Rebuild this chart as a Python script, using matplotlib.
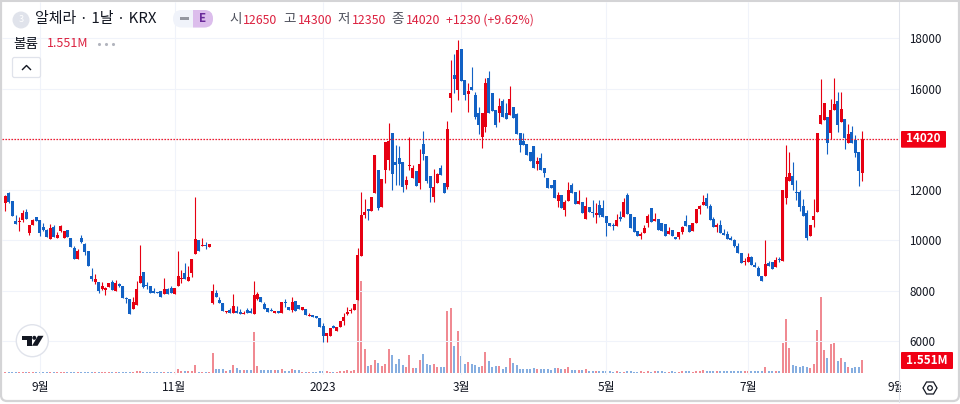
import matplotlib
matplotlib.use('Agg')
import matplotlib.pyplot as plt
from matplotlib.patches import Circle, FancyBboxPatch, Polygon, Rectangle
from matplotlib.transforms import Bbox

plt.rcParams['font.family'] = ['Noto Sans CJK KR', 'DejaVu Sans']

# 일봉 데이터
opens = [
    11479, 11849, 11545, 10753, 10712, 10793, 11110, 10291, 10582, 10899,
    10793, 10503, 10397, 10054, 10529, 10093, 10371, 10093, 10384, 10093,
    9697, 9262, 10067, 9843, 9565, 8562, 8325, 8325, 8060, 8021,
    8153, 8325, 7995, 8259, 8166, 7691, 7678, 7255, 7427, 8311,
    8747, 8206, 8179, 7968, 7955, 7981, 7876, 8047, 8087, 7876,
    8192, 8443, 8681, 8364, 8681, 9447, 10001, 9777, 9803, 9737,
    7519, 7902, 7625, 7519, 7137, 7229, 7124, 7190, 7137, 7057,
    7229, 7190, 7084, 7665, 7757, 7466, 7321, 7229, 7124, 7202,
    7124, 7533, 7361, 7229, 7585, 7427, 7229, 7255, 7004, 7031,
    6991, 6925, 6595, 6213, 6213, 6595, 6411, 6569, 6793, 7057,
    7176, 7229, 7625, 9367, 10991, 11216, 11163, 11875, 12773, 11321,
    12773, 13169, 14251, 13090, 13235, 13077, 12179, 12931, 12443, 12746,
    12271, 13803, 13327, 12549, 11717, 12245, 12865, 12245, 12087, 15637,
    16522, 15941, 17551, 16337, 15769, 16060, 15743, 15017, 14093, 14463,
    16403, 15809, 15149, 15043, 15519, 15017, 14951, 15255, 14991, 14225,
    13921, 13789, 13499, 13723, 13011, 13235, 12865, 12469, 12192, 12377,
    11545, 11783, 11189, 11545, 12179, 11889, 11413, 11519, 10845, 11307,
    11110, 10978, 11387, 11255, 10951, 10687, 10608, 10569, 10925, 10925,
    11783, 11017, 10899, 10357, 10173, 10291, 10661, 11255, 10741, 10833,
    10661, 10635, 10252, 10397, 10133, 10120, 10305, 10753, 10595, 10357,
    10661, 11229, 11387, 11664, 11360, 10846, 10503, 10595, 10265, 10225,
    10067, 9988, 9750, 9499, 9129, 9143, 9328, 9024, 8905, 8562,
    8589, 9077, 9117, 8945, 9249, 9183, 11677, 12351, 12535, 11902,
    11915, 11360, 11057, 10173, 10793, 11123, 14595, 14753, 14859, 14251,
    15149, 15505, 14687, 14779, 13829, 14278, 13961, 13472, 12650,
]
closes = [
    11743, 11506, 10965, 10635, 10730, 11057, 10846, 10582, 10793, 10767,
    10265, 10397, 10133, 10463, 10133, 10199, 10555, 10344, 10120, 9737,
    9262, 9579, 9922, 9539, 8971, 8443, 8456, 7995, 8166, 8087,
    8285, 8021, 8285, 8179, 7704, 7651, 7084, 7546, 8047, 8575,
    8153, 8166, 7915, 7915, 7915, 7757, 8047, 7862, 7889, 8113,
    8575, 8470, 8443, 8536, 9249, 10041, 9565, 9803, 9750, 9843,
    7981, 7757, 7519, 7202, 7150, 7097, 7387, 7124, 7057, 7124,
    7124, 7097, 7823, 7849, 7533, 7282, 7163, 7176, 7202, 7124,
    7559, 7493, 7229, 7546, 7202, 7255, 7361, 7044, 7031, 6965,
    6899, 6543, 6199, 6331, 6529, 6503, 6569, 6806, 6965, 7163,
    7202, 7467, 9407, 10991, 11123, 11163, 11717, 13367, 11255, 12416,
    13895, 13921, 12615, 12971, 12997, 12113, 12377, 12971, 12839, 12153,
    12997, 13407, 12351, 12073, 12087, 12601, 12575, 11875, 14383, 15809,
    16390, 17525, 16311, 15743, 15901, 15941, 14885, 14555, 15043, 16205,
    15017, 15123, 14555, 15307, 14859, 14779, 15571, 14819, 14185, 13763,
    13763, 13367, 13129, 12865, 13116, 12773, 12641, 12073, 12073, 11677,
    11783, 11255, 11519, 11981, 11849, 11413, 11545, 11057, 11347, 11110,
    11057, 11070, 11004, 10925, 10687, 10569, 10555, 10793, 10819, 11493,
    11017, 10489, 10331, 10173, 10225, 10489, 10951, 10727, 10846, 10397,
    10371, 10173, 10357, 10173, 10041, 10318, 10529, 10569, 10305, 10661,
    11229, 11360, 11493, 11347, 10806, 10529, 10595, 10291, 10212, 10054,
    9988, 9750, 9499, 9103, 9169, 9328, 9024, 8945, 8589, 8391,
    9037, 8985, 8853, 9209, 9222, 11981, 12509, 12641, 12179, 11875,
    11321, 10965, 10093, 10595, 10938, 14225, 14951, 15413, 13829, 15149,
    15387, 14555, 15189, 14053, 14199, 13829, 13459, 12747, 14020,
]
highs = [
    11770, 11902, 11545, 10991, 10899, 11189, 11242, 10582, 10820, 10925,
    10793, 10687, 10450, 10635, 10582, 10331, 10595, 10344, 10384, 10093,
    9763, 9645, 10186, 9895, 9565, 8892, 8641, 8351, 8351, 8126,
    8285, 8404, 8417, 8311, 8166, 7757, 7678, 7731, 8377, 9803,
    8747, 8351, 8179, 8100, 7955, 7981, 8483, 8113, 8192, 8113,
    9565, 8813, 9103, 8971, 9249, 11704, 10001, 10067, 9922, 9843,
    8259, 8021, 7730, 7519, 7202, 7295, 7862, 7387, 7255, 7190,
    7321, 7321, 8377, 7928, 7757, 7559, 7321, 7308, 7202, 7202,
    7559, 7664, 7361, 7730, 7585, 7427, 7361, 7255, 7123, 7031,
    6991, 6925, 6701, 6331, 6529, 6635, 6569, 6806, 7097, 7335,
    7295, 7467, 9671, 11889, 11625, 11216, 11717, 13367, 12773, 12416,
    13895, 14621, 14251, 13763, 13723, 13077, 12535, 14067, 12971, 12746,
    13591, 14317, 13327, 12549, 12799, 12667, 12971, 12245, 14713, 17129,
    17367, 17921, 17551, 16337, 16205, 16839, 15875, 15255, 15043, 16403,
    16693, 15809, 15149, 15611, 15585, 15439, 16099, 15255, 15043, 14225,
    14225, 13789, 13499, 13723, 13301, 13459, 12865, 12469, 12192, 12377,
    11889, 11783, 11585, 12285, 12271, 11889, 11981, 11519, 11690, 11307,
    11585, 11453, 11585, 11585, 10951, 10687, 10661, 11031, 11163, 11651,
    11849, 11017, 10899, 10357, 10331, 10595, 11031, 11255, 11057, 10833,
    10661, 10635, 10529, 10397, 10133, 10318, 10555, 10991, 10595, 10661,
    11229, 11387, 11783, 11875, 11413, 10925, 10661, 10793, 10437, 10357,
    10159, 10041, 9869, 9499, 9301, 9499, 9381, 9143, 8971, 8562,
    10001, 9169, 9117, 9341, 9341, 11981, 13763, 13499, 13103, 12377,
    11981, 11611, 11189, 10595, 11625, 14225, 16377, 15413, 14859, 15571,
    16403, 15849, 15849, 14779, 14581, 14515, 14159, 13472, 14300,
]
lows = [
    11163, 11480, 10965, 10635, 10370, 10727, 10820, 10199, 10582, 10767,
    10173, 10357, 10133, 10054, 10133, 10093, 10318, 10093, 10120, 9737,
    9262, 9262, 9895, 9407, 8971, 8390, 8259, 7915, 8021, 7823,
    8153, 8021, 7995, 8153, 7704, 7519, 7084, 7255, 7427, 8311,
    8100, 8047, 7915, 7915, 7915, 7757, 7876, 7862, 7889, 7876,
    8192, 8311, 8443, 8364, 8522, 9447, 9565, 9777, 9644, 9737,
    7453, 7757, 7519, 7202, 7124, 7097, 7124, 7124, 7057, 7057,
    7124, 7097, 7084, 7625, 7533, 7282, 7163, 7176, 7124, 7124,
    7124, 7361, 7229, 7163, 7202, 7255, 7229, 7044, 7004, 6965,
    6899, 6543, 5975, 5975, 6213, 6503, 6411, 6569, 6635, 7031,
    7097, 7229, 7625, 9367, 10859, 10793, 11163, 11875, 11189, 11321,
    12271, 12773, 11981, 12179, 12179, 11915, 12034, 12773, 12443, 12153,
    12007, 13169, 12271, 11519, 11519, 12245, 12575, 11875, 12007, 15083,
    15809, 15545, 16311, 15545, 15083, 15941, 14779, 14199, 13631, 14291,
    15017, 15123, 14489, 14687, 14859, 14779, 14951, 14819, 14185, 13499,
    13763, 13367, 13129, 12865, 12773, 12773, 12509, 12073, 12073, 11677,
    11321, 11255, 10965, 11545, 11849, 11413, 11413, 11057, 10845, 11110,
    10899, 10687, 10925, 10925, 10173, 10569, 10397, 10569, 10767, 10925,
    11017, 10489, 10331, 10173, 10041, 10291, 10529, 10727, 10741, 10397,
    10371, 10173, 10252, 10173, 10041, 10041, 10238, 10569, 10305, 10357,
    10661, 11031, 11387, 11255, 10806, 10529, 10331, 10291, 10212, 10054,
    9988, 9710, 9499, 9103, 9011, 9143, 9024, 8945, 8589, 8391,
    8589, 8985, 8853, 8945, 9117, 9183, 11427, 12351, 11981, 11585,
    11149, 10965, 10001, 10173, 10529, 11123, 14595, 14753, 13407, 14001,
    15149, 14291, 14687, 13605, 13829, 13829, 13301, 12139, 12350,
]
# 거래량 (백만 주)
volumes = [
    .13, .13, .13, .13, .13, .13, .13, .13, .13, .13,
    .14, .13, .13, .13, .13, .13, .13, .13, .13, .13,
    .13, .14, .13, .13, .13, .13, .13, .13, .13, .13,
    .13, .13, .13, .13, .13, .14, .16, .14, .24, .30,
    .18, .13, .13, .13, .13, .13, .15, .13, .14, .14,
    .43, .22, .22, .20, .22, .92, .18, .18, .15, .14,
    2.5, .49, .49, .49, .24, .37, .92, .61, .37, .37,
    .37, .37, 4.97, .85, .37, .37, .31, .31, .37, .31,
    .43, .24, .24, .49, .37, .31, .16, .16, .14, .16,
    .16, .28, .21, .21, .16, .13, .16, .20, .20, .34,
    .24, .37, 10.4, 11.2, 2.89, .82, .94, 1.55, 1.26, .82,
    1.13, 2.89, 2.16, 1.06, 1.67, .94, .73, 2.16, .57, .57,
    1.55, 2.28, 1.06, .94, 1.06, .70, .70, .70, 7.53, 7.97,
    3.26, 5.09, 2.04, 1.06, 1.31, 1.13, .94, .70, .82, 2.53,
    1.43, .70, .82, .82, .45, .70, 1.79, 1.18, .94, .45,
    .49, .52, .45, .57, .45, .45, .45, .45, .37, .57,
    .57, .45, .45, .70, .33, .33, .33, .33, .45, .24,
    .24, .24, .24, .22, .20, .20, .18, .24, .18, .18,
    .24, .20, .18, .18, .20, .18, .20, .18, .20, .20,
    .20, .18, .18, .20, .18, .18, .20, .20, .20, .18,
    .20, .24, .37, .30, .30, .24, .24, .20, .20, .24,
    .20, .20, .24, .20, .20, .20, .20, .20, .20, .20,
    .70, .24, .24, .24, .24, 3.66, 6.60, 3.05, .98, .85,
    .70, .85, .73, .61, 1.10, 5.25, 9.27, 2.80, 1.83, 3.54,
    3.66, 1.46, 1.83, 1.34, .73, .61, .73, .73, 1.551,
]
month_pos = [10, 49, 92, 132, 174, 215, 258]
month_labels = ['9월', '11월', '2023', '3월', '5월', '7월', '9월']
price_ticks = [6000, 8000, 10000, 12000, 14000, 16000, 18000]
price_labels = ['6000', '8000', '10000', '12000', '', '16000', '18000']
last_price = 14020

RED = '#e60012'
BLUE = '#1261c4'
CRIMSON = '#dc2240'
INK = '#131722'
GRID = '#f0f3fa'
EDGE = '#e0e3eb'

fig = plt.figure(figsize=(9.6, 4.04), dpi=100)
pos = [2 / 960, (404 - 375) / 404, 897 / 960, 373 / 404]
x = list(range(len(opens)))
xlim = (-0.955, 258.7)

# 거래량 패널 (캔들 뒤쪽)
ax_vol = fig.add_axes(pos, zorder=1)
ax_vol.set_xlim(xlim)
ax_vol.set_ylim(-0.244, 45.26)
ax_vol.axis('off')
vol_colors = ['#f08a92' if c >= o else '#86aee0' for o, c in zip(opens, closes)]
ax_vol.bar(x, volumes, width=0.58, color=vol_colors, linewidth=0)

# 캔들
ax = fig.add_axes(pos, zorder=2)
ax.patch.set_alpha(0)
ax.set_xlim(xlim)
ax.set_ylim(4655, 19426)
colors = [RED if c >= o else BLUE for o, c in zip(opens, closes)]
ax.vlines(month_pos[:-1], 4655, 19426, color=GRID, lw=0.75, zorder=0)
ax.hlines(price_ticks, xlim[0], xlim[1], color=GRID, lw=0.75, zorder=0)
ax.vlines(x, lows, highs, color=colors, lw=0.8, zorder=2)
bottoms = [min(o, c) for o, c in zip(opens, closes)]
heights = [max(abs(c - o), 40) for o, c in zip(opens, closes)]
ax.bar(x, heights, bottom=bottoms, width=0.87, color=colors, linewidth=0, zorder=3)
ax.axhline(last_price, color='#f00014', lw=0.9, ls=(0, (1.1, 1.3)), zorder=4)

ax.yaxis.tick_right()
ax.set_yticks(price_ticks, price_labels, fontsize=8.4, color=INK)
ax.set_xticks(month_pos, month_labels, fontsize=8.6, color=INK)
ax.tick_params(axis='both', length=0)
ax.tick_params(axis='y', pad=7.5)
ax.tick_params(axis='x', pad=4)
for sp in ax.spines.values():
    sp.set_visible(False)
# 마지막 9월 라벨은 오른쪽 축에 잘림
ax.get_xticklabels()[-1].set_clip_box(Bbox([[0, 0], [901, 404]]))
ax.get_xticklabels()[-1].set_clip_on(True)

# 헤더, 버튼, 라벨 등 (픽셀 좌표)
ui = fig.add_axes([0, 0, 1, 1], zorder=3)
ui.patch.set_alpha(0)
ui.set_xlim(0, 960)
ui.set_ylim(404, 0)
ui.axis('off')

ui.plot([899, 899], [2, 402], color=EDGE, lw=0.75)
ui.add_patch(FancyBboxPatch((1, -8), 958, 409, boxstyle='round,pad=0,rounding_size=6',
                            fc='none', ec='#d4d4d6', lw=1.6))
ui.plot([0, 960], [1, 1], color='#d4d4d6', lw=1.5)

ui.add_patch(Circle((21, 20), 8.5, fc=EDGE, ec='none'))
ui.text(21, 19.5, '3', color='white', fontsize=6.5, ha='center', va='center')
ui.text(35, 19.5, '알체라 · 1날 · KRX', color=INK, fontsize=10.8, va='center')

ui.add_patch(FancyBboxPatch((173, 10), 40, 17.5, boxstyle='round,pad=0,rounding_size=8.7',
                            fc=GRID, ec='none'))
purple = FancyBboxPatch((173, 10), 40, 17.5, boxstyle='round,pad=0,rounding_size=8.7',
                        fc='#dcbdec', ec='none')
ui.add_patch(purple)
purple.set_clip_path(Rectangle((193, 0), 30, 40, transform=ui.transData))
ui.add_patch(Rectangle((179.5, 17), 9, 3, fc='#9598a1', ec='none'))
ui.text(202.5, 19, 'E', color='#6a2a9a', fontsize=8.4, fontweight='bold', ha='center', va='center')

header_ko = [(229.3, '시'), (283.3, '고'), (337.7, '저'), (391.7, '종')]
header_val = [(243.3, '12650'), (298, '14300'), (352, '12350'), (406, '14020'), (446, '+1230 (+9.62%)')]
for hx, s in header_ko:
    ui.text(hx, 19.5, s, color='#50535e', fontsize=9.8, va='center')
for hx, s in header_val:
    ui.text(hx, 20, s, color=CRIMSON, fontsize=8.9, va='center')

ui.text(13, 44, '볼륨', color=INK, fontsize=9.8, va='center')
ui.text(47, 43.5, '1.551M', color=CRIMSON, fontsize=9, va='center')
ui.scatter([99, 106, 113], [43.5, 43.5, 43.5], s=5, color='#b2b5be', linewidth=0)
ui.add_patch(FancyBboxPatch((12.5, 57.5), 28, 20, boxstyle='round,pad=0,rounding_size=2',
                            fc='white', ec=EDGE, lw=0.9))
ui.plot([22.5, 26.5, 30.5], [69.5, 65.5, 69.5], color=INK, lw=1)

# 로고
ui.add_patch(Circle((32.3, 340.7), 16, fc='white', ec=EDGE, lw=1))
ui.add_patch(Polygon([(22, 335.8), (31.5, 335.8), (31.5, 345.8), (27, 345.8), (27, 339.8), (22, 339.8)],
                     fc=INK, ec='none'))
ui.add_patch(Circle((34.3, 337.8), 2, fc=INK, ec='none'))
ui.add_patch(Polygon([(38, 335.8), (43.5, 335.8), (37.5, 345.8), (32, 345.8)], fc=INK, ec='none'))

# 오른쪽 값 라벨
ui.add_patch(FancyBboxPatch((901, 131), 45, 16.7, boxstyle='round,pad=0,rounding_size=1',
                            fc='#f00014', ec='none'))
ui.text(923.5, 139, '14020', color='white', fontsize=8.4, fontweight='bold', ha='center', va='center')
ui.add_patch(FancyBboxPatch((901, 352), 52, 17, boxstyle='round,pad=0,rounding_size=1',
                            fc='#f00014', ec='none'))
ui.text(927, 360, '1.551M', color='white', fontsize=8.4, fontweight='bold', ha='center', va='center')

# 설정 아이콘
ui.add_patch(Polygon([(923, 388), (926.5, 382), (933.5, 382), (937, 388), (933.5, 394), (926.5, 394)],
                     fc='white', ec=INK, lw=0.9))
ui.add_patch(Circle((930, 388), 2.3, fc='white', ec=INK, lw=0.9))

plt.savefig('out.png', dpi=100)
plt.close()
